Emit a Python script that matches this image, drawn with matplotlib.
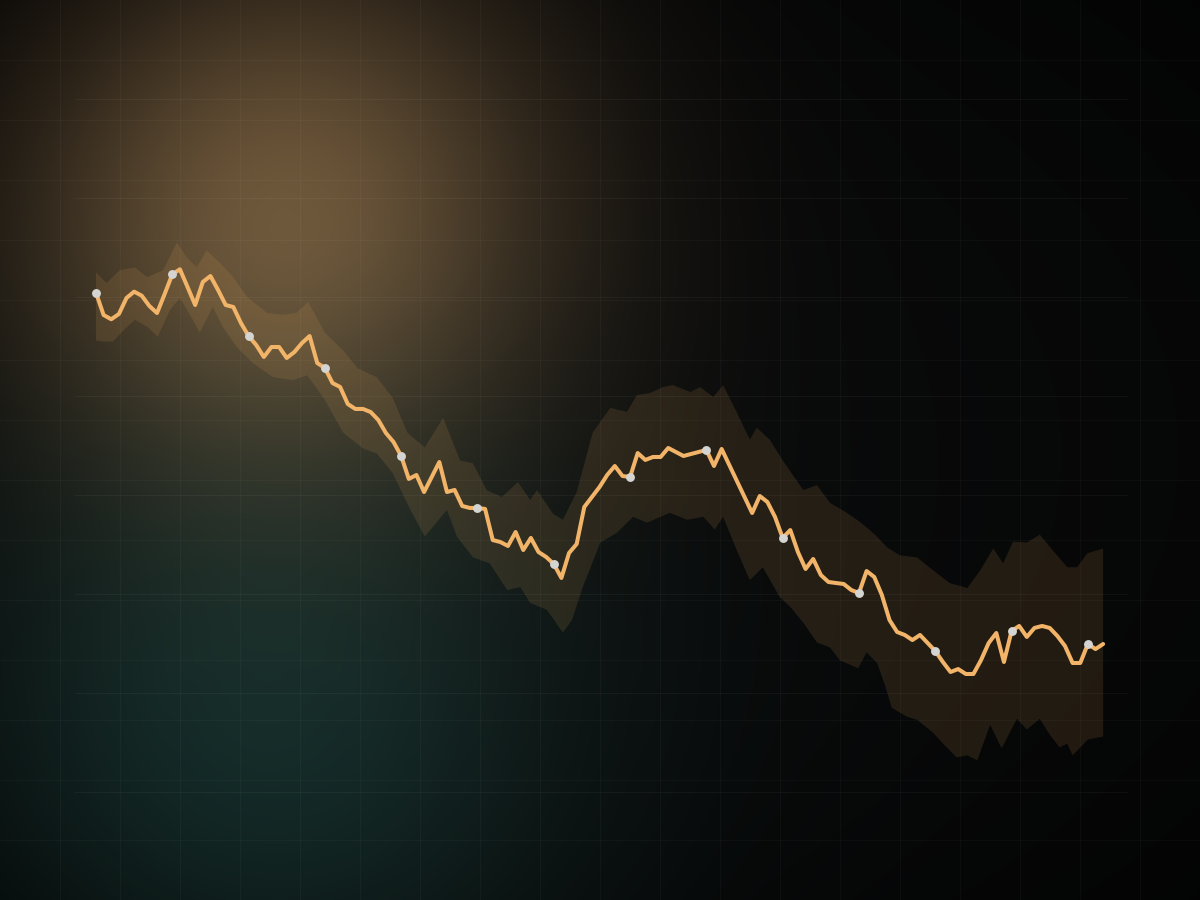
import numpy as np
import matplotlib
matplotlib.use('Agg')
import matplotlib.pyplot as plt

# --------------------------------------------------------------------------------------------
# DATA
values = [60.43, 58.18, 57.75, 58.28, 59.90, 60.54, 60.13, 59.09, 58.38, 60.30,
          62.29, 62.80, 61.01, 59.19, 61.52, 62.12, 60.71, 59.19, 58.99, 57.37,
          56.06, 55.15, 53.94, 54.95, 54.95, 53.84, 54.44, 55.35, 56.06, 53.33,
          52.83, 51.31, 50.91, 49.19, 48.69, 48.69, 48.38, 47.58, 46.26, 45.35,
          43.94, 41.62, 42.02, 40.30, 41.82, 43.33, 40.30, 40.51, 38.89, 38.69,
          38.69, 38.59, 35.45, 35.25, 34.85, 36.26, 34.44, 35.66, 34.24, 33.74,
          33.03, 31.62, 34.14, 35.05, 38.79, 39.80, 40.81, 42.02, 42.93, 41.92,
          41.82, 44.24, 43.54, 43.84, 43.84, 44.75, 44.34, 43.94, 44.14, 44.34,
          44.55, 42.93, 44.65, 43.03, 41.41, 39.80, 38.18, 39.90, 39.29, 37.78,
          35.66, 36.46, 34.24, 32.53, 33.54, 31.92, 31.21, 31.11, 31.01, 30.40,
          30.10, 32.32, 31.72, 29.90, 27.37, 26.16, 25.86, 25.35, 25.86, 25.05,
          24.24, 23.13, 22.12, 22.42, 21.92, 21.92, 23.33, 25.05, 26.06, 23.13,
          26.26, 26.77, 25.66, 26.57, 26.77, 26.57, 25.76, 24.75, 23.03, 23.03,
          24.95, 24.44, 24.95]
days = np.arange(len(values))

# upper edge of the band
band_top_day = [0, 1.4, 3.1, 5.1, 6.7, 8.8, 10.6, 11.9, 13.2, 14.5, 16.3, 18.0, 19.8, 22.4,
                24.5, 26.3, 27.8, 30.0, 32.4, 34.3, 36.8, 38.9, 40.8, 43.1, 45.5, 47.7,
                49.4, 51.2, 53.2, 55.3, 56.9, 57.8, 59.9, 61.2, 63.0, 65.1, 67.4, 69.6,
                70.9, 72.6, 74.3, 75.6, 77.9, 79.2, 80.9, 82.2, 84.0, 85.7, 86.6, 88.3,
                90.0, 92.7, 94.5, 96.2, 98.2, 100.1, 102.1, 103.7, 105.4, 107.6, 109.7,
                111.9, 114.2, 115.9, 117.6, 118.9, 120.2, 122.0, 123.7, 125.4, 127.3,
                128.6, 129.9, 132]
band_top = [62.5, 61.4, 62.7, 63.0, 62.0, 62.7, 65.5, 64.0, 63.0, 64.7, 63.4, 62.0, 60.0, 58.4,
            58.2, 58.4, 59.5, 56.4, 54.6, 52.8, 51.9, 49.8, 46.3, 44.8, 47.8, 43.5,
            43.2, 40.5, 39.8, 41.3, 39.5, 40.5, 38.1, 37.5, 40.3, 46.3, 48.8, 48.4,
            50.1, 50.3, 50.9, 51.1, 50.4, 50.9, 49.9, 51.1, 48.3, 45.6, 46.8, 45.6,
            43.5, 40.5, 41.0, 39.2, 38.3, 37.3, 36.0, 34.7, 33.9, 33.7, 32.4,
            31.1, 30.6, 32.4, 34.6, 33.1, 35.3, 35.2, 36.0, 34.4, 32.7,
            32.7, 34.1, 34.6]

# lower edge of the band
band_bot_day = [0, 1.0, 2.2, 3.7, 5.1, 6.7, 8.1, 9.7, 11.0, 12.7, 13.6, 15.3, 16.6, 18.5,
                20.6, 23.2, 25.8, 27.7, 30.0, 32.4, 35.0, 36.8, 38.9, 41.2, 43.1, 46.0,
                47.3, 49.4, 51.6, 53.9, 55.6, 56.9, 59.1, 61.2, 62.4, 63.8, 66.1, 68.3,
                70.4, 72.2, 75.2, 77.5, 79.6, 81.1, 82.2, 84.0, 85.7, 87.4, 89.6, 91.0,
                92.7, 94.5, 96.2, 97.5, 99.9, 101.0, 102.4, 103.4, 104.3, 106.3, 107.6,
                109.7, 111.0, 112.8, 114.2, 115.5, 117.2, 118.7, 120.7, 122.0, 123.7,
                125.0, 126.3, 127.3, 128.0, 130.0, 132]
band_bot = [55.6, 55.5, 55.5, 56.7, 57.7, 57.0, 56.0, 58.7, 59.9, 57.7, 56.4, 59.0, 57.0, 54.9,
            53.3, 51.9, 51.6, 52.1, 49.6, 46.3, 44.7, 44.2, 42.2, 38.5, 35.8, 38.5,
            35.8, 33.7, 33.1, 30.4, 30.7, 29.1, 28.4, 26.1, 27.4, 30.7, 35.2, 36.2,
            37.8, 37.2, 38.2, 37.5, 37.8, 36.5, 37.8, 34.4, 31.4, 32.7, 29.7, 28.7,
            27.1, 25.1, 24.6, 23.3, 22.5, 24.1, 23.0, 20.8, 18.5, 17.6, 17.3,
            16.0, 14.9, 13.5, 13.7, 13.2, 16.8, 14.4, 17.4, 16.3, 17.4,
            15.8, 14.5, 14.9, 13.7, 15.3, 15.6]

marker_every = 10
# --------------------------------------------------------------------------------------------

W, H = 1200, 900
fig = plt.figure(figsize=(W / 100, H / 100), dpi=100)

# background: dark base with a warm glow top-left and a teal glow bottom-left
bg = fig.add_axes([0, 0, 1, 1])
bg.axis('off')
yy, xx = np.mgrid[0:H, 0:W].astype(float)
base = np.array([0.035, 0.038, 0.040])
warm = np.array([0.49, 0.375, 0.235])
teal = np.array([0.070, 0.185, 0.170])
g_warm = np.exp(-((xx - 260) ** 2 + (yy - 180) ** 2) / (2 * 195 ** 2))
g_teal = np.exp(-((xx - 220) ** 2 + (yy - 780) ** 2) / (2 * 235 ** 2))
vig = 1 - 0.6 * (((xx - 600) / 600) ** 2 + ((yy - 450) / 450) ** 2) / 2
img = (base + warm * g_warm[..., None] + teal * g_teal[..., None]) * vig[..., None]
bg.imshow(np.clip(img, 0, 1), extent=(0, W, H, 0), aspect='auto', interpolation='bilinear')
bg.set_xlim(0, W)
bg.set_ylim(H, 0)

# faint fine grid over the whole canvas
for gx in range(60, W, 60):
    bg.axvline(gx, color='white', alpha=0.03, lw=0.75)
for gy in range(60, H, 60):
    bg.axhline(gy, color='white', alpha=0.03, lw=0.75)

# chart axes
ax = fig.add_axes([75 / W, 0, (1128 - 75) / W, 1])
ax.patch.set_alpha(0)
for s in ax.spines.values():
    s.set_visible(False)
ax.set_xlim(-2.75, 135.26)
ax.set_ylim(-0.91, 90)
ax.set_yticks(range(10, 90, 10))
ax.set_xticks([])
ax.tick_params(length=0, labelleft=False, labelbottom=False)
ax.grid(axis='y', color='white', alpha=0.045, lw=0.75)

# uncertainty band
poly_x = np.concatenate([band_top_day, band_bot_day[::-1]])
poly_y = np.concatenate([band_top, band_bot[::-1]])
ax.fill(poly_x, poly_y, color='#f0b060', alpha=0.12, lw=0, zorder=2)

# main line and markers
ax.plot(days, values, color='#f2b468', lw=2.9, solid_joinstyle='round',
        solid_capstyle='round', zorder=3)
ax.plot(days[::marker_every], np.array(values)[::marker_every], 'o', color='#d4d4d2',
        ms=6.4, mew=0, zorder=4)

fig.savefig('out.png', dpi=100)
